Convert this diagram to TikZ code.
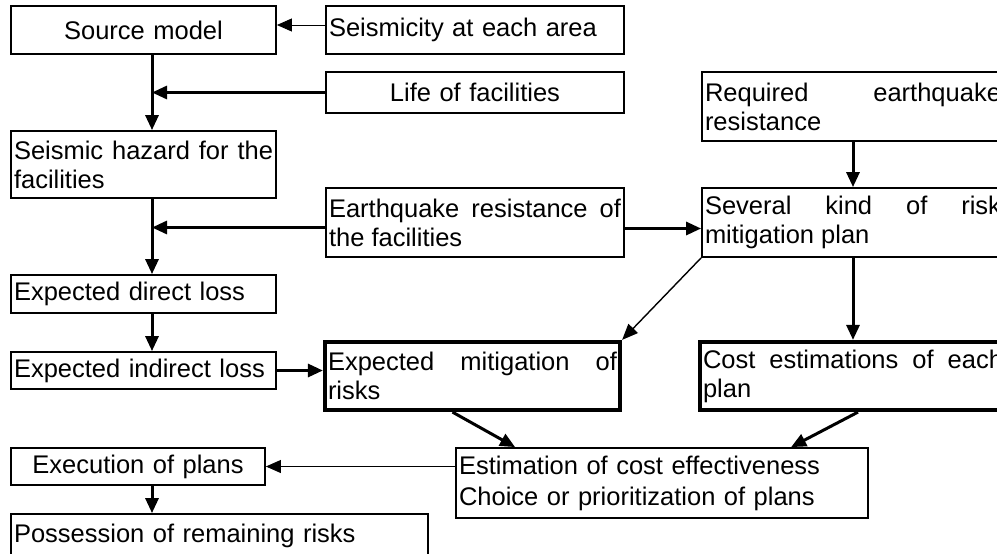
\documentclass[tikz,border=0pt]{standalone}
\usepackage{fontspec}
\setmainfont{Liberation Sans}
\usetikzlibrary{arrows.meta}
\newcommand\boxfont{\fontsize{25.5}{29}\selectfont\hyphenpenalty=10000\exhyphenpenalty=10000\relax}
\newcommand\estfont{\fontsize{25.5}{31}\selectfont\relax}
\begin{document}
\begin{tikzpicture}[x=1pt,y=-1pt,
  box/.style={draw, line width=1.8pt, inner xsep=3pt, inner ysep=0pt, font=\boxfont},
  thickbox/.style={box, line width=4.2pt},
  arr/.style={-{Triangle[length=15pt,width=13pt]}, line width=3pt},
  thinarr/.style={-{Triangle[length=15pt,width=13pt]}, line width=0.9pt},
  midarr/.style={-{Triangle[length=16pt,width=13pt]}, line width=1.4pt}]
\path[use as bounding box] (0,0) rectangle (997,554);
\clip (0,0) rectangle (997,554);
\coordinate (sx) at (152,0);

\node[box, minimum width=265pt, minimum height=48pt, text width=259pt, align=center] (src) at (143.5,30) {Source model};
\node[box, minimum width=298pt, minimum height=48pt, text width=292pt, align=left] (seis) at (475,30) {Seismicity at each area};
\node[box, minimum width=298pt, minimum height=41pt, text width=292pt, align=center] (life) at (475,92.5) {Life of facilities};
\node[box, minimum width=265pt, minimum height=67pt, text width=259pt, align=justify] (haz) at (143.5,164.5) {Seismic hazard for the facilities};
\node[box, minimum width=302pt, minimum height=69pt, text width=296pt, align=justify] (req) at (853,106.5) {Required earthquake resistance};
\node[box, minimum width=298pt, minimum height=69pt, text width=292pt, align=justify] (eqr) at (475,222.5) {Earthquake resistance of the facilities};
\node[box, minimum width=302pt, minimum height=69pt, text width=296pt, align=justify] (sev) at (853,222.5) {Several kind of risk mitigation plan};
\node[box, minimum width=265pt, minimum height=38pt, text width=259pt, align=left] (dir) at (143.5,294) {Expected direct loss};
\node[box, minimum width=265pt, minimum height=37pt, text width=259pt, align=left] (ind) at (143.5,370.5) {Expected indirect loss};
\node[thickbox, minimum width=295pt, minimum height=68pt, text width=289pt, align=justify] (mit) at (472.5,376) {Expected mitigation of risks};
\node[thickbox, minimum width=306pt, minimum height=68pt, text width=300pt, align=justify] (cost) at (853,376) {Cost estimations of each plan};
\node[box, minimum width=254pt, minimum height=37pt, text width=248pt, align=center] (exe) at (138,466.5) {Execution of plans};
\node[box, font=\estfont, minimum width=412pt, minimum height=70pt, text width=406pt, align=left] (est) at (662,483) {Estimation of cost effectiveness\\Choice or prioritization of plans};
\node[box, minimum width=417pt, minimum height=44pt, text width=411pt, align=left] (poss) at (219.5,536) {Possession of remaining risks};

\coordinate (e1) at ([yshift=-5pt]eqr.west);
\draw[thinarr] ([yshift=5pt]seis.west) -- ([yshift=5pt]src.east);
\draw[arr] (life.west) -- (life.west -| sx);
\draw[arr] (src.south -| sx) -- (haz.north -| sx);
\draw[arr] (haz.south -| sx) -- (dir.north -| sx);
\draw[arr] (e1) -- (e1 -| sx);
\draw[arr] (dir.south -| sx) -- (ind.north -| sx);
\draw[arr] ([yshift=-6pt]eqr.east) -- ([yshift=-6pt]sev.west);
\draw[arr] (req.south) -- (sev.north);
\draw[arr] (sev.south) -- (cost.north);
\draw[midarr] (sev.south west) -- (mit.north east);
\draw[arr] (ind.east) -- (ind.east -| mit.west);
\draw[arr] ([xshift=-20pt]mit.south) -- ([xshift=60pt]est.north west);
\draw[arr] ([xshift=5pt]cost.south) -- ([xshift=336pt]est.north west);
\draw[thinarr] (est.west |- exe.east) -- (exe.east);
\draw[arr] (exe.south -| sx) -- (poss.north -| sx);
\end{tikzpicture}
\end{document}
